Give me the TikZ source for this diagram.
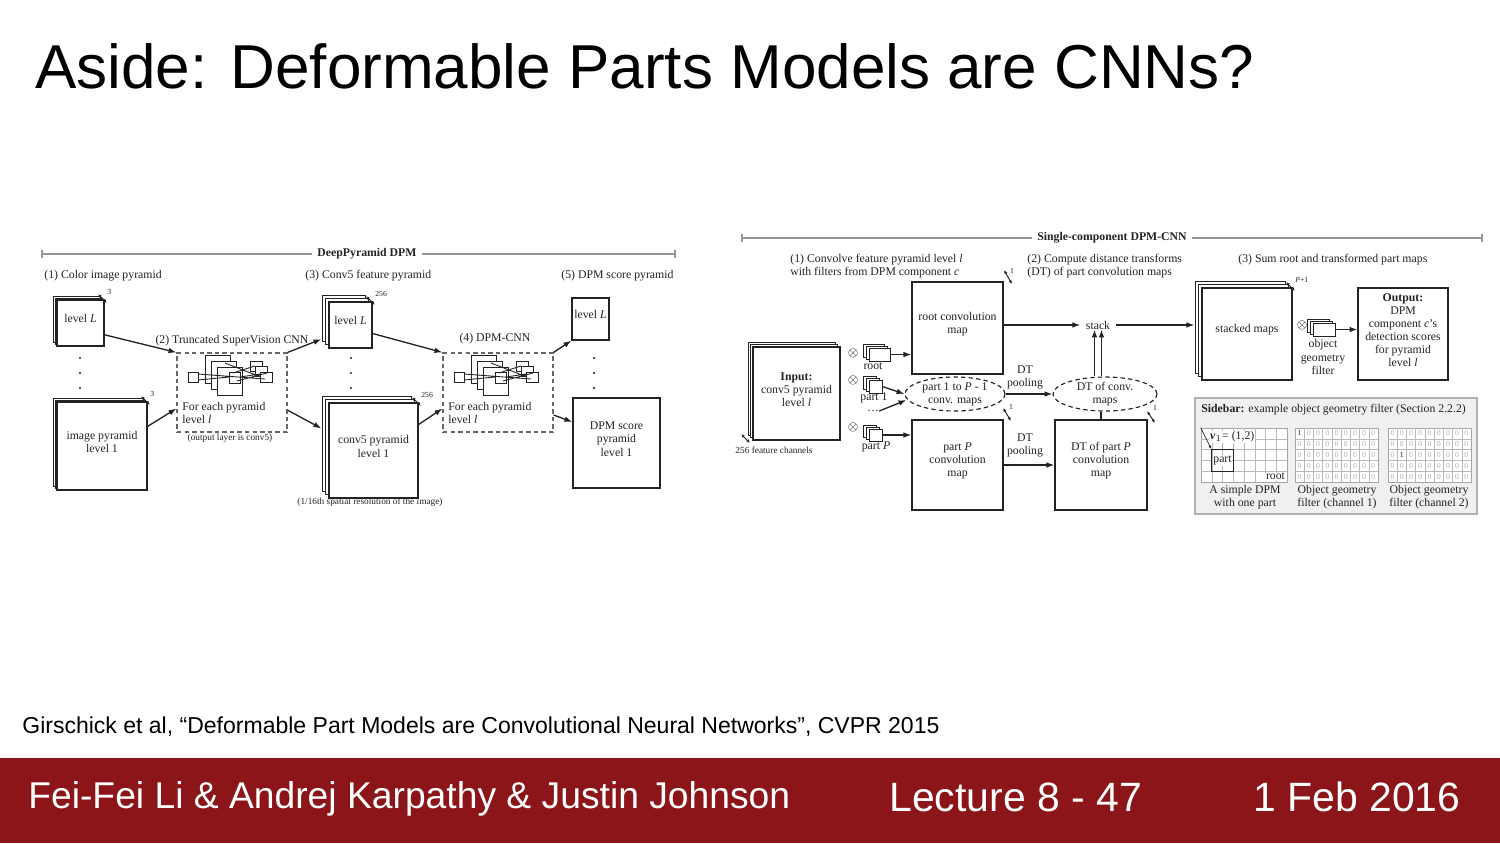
\documentclass[tikz,border=0pt]{standalone}
\usepackage{fontspec}
\setmainfont{Liberation Serif}
\newfontfamily\slidefont{Liberation Sans}
\usetikzlibrary{arrows.meta, positioning, shapes.geometric, calc, fit}

\definecolor{footred}{RGB}{139,21,24}
\definecolor{ink}{RGB}{35,35,35}
\definecolor{rulegray}{RGB}{150,150,150}

\newcommand{\figsize}{\fontsize{6.7}{7.5}\selectfont}
\newcommand{\smallsize}{\fontsize{5.3}{6}\selectfont}
\newcommand{\tinysize}{\fontsize{4.4}{5}\selectfont}

% sheets stacked behind a map, offset up-left
\newcommand{\layers}[5]{%
  \foreach \k in {2,1}
    \draw[sheet] (#1-\k*#5,#2-\k*#5) rectangle (#3-\k*#5,#4-\k*#5);}
% depth marker at a top-right corner
\newcommand{\depthmark}[4]{%
  \draw[depth] (#2-6,#3-6) -- (#2+3,#3+3);
  \node[tinylbl, anchor=south west] (#1) at (#2+3,#3-5) {#4};}
% small filter stack, front sheet is a node
\newcommand{\filt}[5]{%
  \draw[sheet] (#2,#3) rectangle ++(#4,#5);
  \draw[sheet] (#2+3,#3+2) rectangle ++(#4,#5);
  \node[sheetnode, fit={(#2+6,#3+4) (#2+6+#4,#3+4+#5)}] (#1) {};}
% little network drawing inside the dashed boxes
\newcommand{\cnnicon}[2]{%
  \begin{scope}[shift={(#1,#2)}]
    \draw[icon, fill=white] (28,2) rectangle (53,30);
    \draw[icon, fill=white] (34,8) rectangle (59,36);
    \draw[icon, fill=white] (40,14) rectangle (65,42);
    \draw[icon, fill=white] (73,8) rectangle (85,18);
    \draw[icon, fill=white] (78,13) rectangle (90,23);
    \draw[icon, fill=white] (83,19) rectangle (95,29);
    \draw[icon, fill=white] (11,19) rectangle (21,29);
    \draw[icon, fill=white] (52,19) rectangle (63,30);
    \draw[icon] (21,21) -- (88,26) (21,27) -- (52,24) (48,10) -- (84,24)
      (63,24) -- (83,21) (56,20) -- (78,13) (60,28) -- (90,20);
  \end{scope}}

\begin{document}
\begin{tikzpicture}[x=0.02cm, y=-0.02cm,
    >={Latex[length=4.5pt,width=3.2pt]},
    lbl/.style={font=\figsize, text=ink, inner sep=0pt, align=center},
    small/.style={font=\smallsize, text=ink, inner sep=0pt},
    tinylbl/.style={font=\tinysize, text=ink, inner sep=0pt},
    head/.style={font=\figsize\bfseries, text=ink, fill=white, inner xsep=3pt, inner ysep=0pt},
    rule/.style={draw=rulegray, line width=0.6pt},
    sheet/.style={draw=ink, fill=white, line width=0.55pt},
    sheetnode/.style={draw=ink, fill=white, line width=0.55pt, inner sep=0pt},
    mapbox/.style={draw=ink, fill=white, line width=0.7pt, inner sep=0pt, font=\figsize, text=ink, align=center},
    dashbox/.style={draw=gray!80!black, line width=0.65pt, dash pattern=on 2.5pt off 1.8pt, inner sep=0pt},
    dashell/.style={ellipse, draw=ink, line width=0.65pt, dash pattern=on 2.5pt off 1.8pt, inner sep=0pt, font=\figsize, text=ink, align=center},
    arr/.style={->, draw=ink, line width=0.75pt},
    depth/.style={{Latex[length=2.2pt,width=1.8pt]}-{Latex[length=2.2pt,width=1.8pt]}, draw=ink, line width=0.55pt},
    icon/.style={draw=ink, line width=0.5pt},
    dotmark/.style={circle, fill=ink, inner sep=0pt, minimum size=1.4pt},
    cellgrid/.style={draw=gray!55, line width=0.3pt},
    digit/.style={font=\tinysize, inner sep=0pt},
  ]
  \fill[white] (0,0) rectangle (1500,843);
  \useasboundingbox (0,0) rectangle (1500,843);

  % slide title and footer
  \node[font=\slidefont\fontsize{35.3}{40}\selectfont, anchor=base west, inner sep=0pt] (title) at (35,88)
    {Aside: Deformable Parts Models are CNNs?};
  \node[font=\slidefont\fontsize{13.1}{15}\selectfont, anchor=base west, inner sep=0pt] (cite) at (22,733)
    {Girschick et al, “Deformable Part Models are Convolutional Neural Networks”, CVPR 2015};
  \fill[footred] (0,758) rectangle (1500,843);
  \node[font=\slidefont\fontsize{21.2}{24}\selectfont, text=white, anchor=base west, inner sep=0pt] (authors) at (28,808)
    {Fei-Fei Li \& Andrej Karpathy \& Justin Johnson};
  \node[font=\slidefont\fontsize{23.3}{26}\selectfont, text=white, anchor=base west, inner sep=0pt] (lecture) at (889,811)
    {Lecture 8 - 47};
  \node[font=\slidefont\fontsize{23.3}{26}\selectfont, text=white, anchor=base west, inner sep=0pt] (date) at (1253,811)
    {1 Feb 2016};

  % ---------------- DeepPyramid DPM ----------------
  \draw[rule] (42,254) -- (675,254);
  \draw[rule] (42,250) -- (42,258) (675,250) -- (675,258);
  \node[head] (ltitle) at (367,254) {DeepPyramid DPM};
  \node[lbl, anchor=west] (lab1) at (44,276) {(1) Color image pyramid};
  \node[lbl, anchor=west] (lab3) at (305,276) {(3) Conv5 feature pyramid};
  \node[lbl, anchor=west] (lab5) at (561,276) {(5) DPM score pyramid};

  % image pyramid
  \layers{57}{300}{104}{346}{2}
  \node[mapbox, fit={(57,300) (104,346)}] (imgL) {level \textit{L}};
  \depthmark{imgLd}{104}{300}{3}
  \foreach \y [count=\i] in {358,373,388} \node[dotmark] (imgdot\i) at (80,\y) {};
  \layers{57}{402}{147}{490}{2}
  \node[mapbox, fit={(57,402) (147,490)}] (imgone) {image pyramid\\level 1};
  \depthmark{imgoned}{147}{402}{3}

  % truncated CNN
  \node[dashbox, fit={(177,353) (287,432)}] (cnn) {};
  \cnnicon{177}{353}
  \node[lbl] (cnnlab) at (232,341) {(2) Truncated SuperVision CNN};
  \node[lbl, align=left, anchor=north west] (cnntxt) at (182,402) {For each pyramid\\level \textit{l}};
  \node[small] (cnnout) at (230,438) {(output layer is conv5)};
  \draw[arr] ($(imgL.north east)!0.75!(imgL.south east)$) -- (cnn.north west);
  \draw[arr] ($(imgone.north east)!0.28!(imgone.south east)$) -- ($(cnn.north west)!0.7!(cnn.south west)$);

  % conv5 pyramid
  \layers{329}{302}{372}{348}{3.5}
  \node[mapbox, fit={(329,302) (372,348)}] (convL) {level \textit{L}};
  \depthmark{convLd}{372}{302}{256}
  \foreach \y [count=\i] in {358,373,388} \node[dotmark] (convdot\i) at (351,\y) {};
  \layers{329}{403}{418}{498}{3.5}
  \node[mapbox, fit={(329,403) (418,498)}] (convone) {conv5 pyramid\\level 1};
  \depthmark{convoned}{418}{403}{256}
  \node[small] (convres) at (370,502) {(1/16th spatial resolution of the image)};
  \draw[arr] (cnn.north east) -- ($(convL.north west)!0.8!(convL.south west)+(-7,0)$);
  \draw[arr] ($(cnn.north east)!0.72!(cnn.south east)$) -- ($(convone.north west)!0.27!(convone.south west)+(-7,0)$);

  % DPM-CNN
  \node[dashbox, fit={(443,353) (553,432)}] (dpm) {};
  \cnnicon{443}{353}
  \node[lbl] (dpmlab) at (495,339) {(4) DPM-CNN};
  \node[lbl, align=left, anchor=north west] (dpmtxt) at (448,402) {For each pyramid\\level \textit{l}};
  \draw[arr] ($(convL.north east)!0.68!(convL.south east)$) -- (dpm.north west);
  \draw[arr] ($(convone.north east)!0.23!(convone.south east)$) -- ($(dpm.north west)!0.7!(dpm.south west)$);

  % DPM score pyramid
  \node[mapbox, fit={(572,298) (609,340)}] (scoreL) {level \textit{L}};
  \foreach \y [count=\i] in {358,373,388} \node[dotmark] (scoredot\i) at (594,\y) {};
  \node[mapbox, fit={(573,398) (660,488)}] (scoreone) {DPM score\\pyramid\\level 1};
  \draw[arr] (dpm.north east) -- (scoreL.south west);
  \draw[arr] ($(dpm.north east)!0.78!(dpm.south east)$) -- ($(scoreone.north west)!0.27!(scoreone.south west)$);

  % ---------------- Single-component DPM-CNN ----------------
  \draw[rule] (742,238) -- (1482,238);
  \draw[rule] (742,234) -- (742,242) (1482,234) -- (1482,242);
  \node[head] (rtitle) at (1112,238) {Single-component DPM-CNN};
  \node[lbl, align=left, anchor=west] (step1) at (790,266)
    {(1) Convolve feature pyramid level \textit{l}\\with filters from DPM component \textit{c}};
  \node[lbl, align=left, anchor=west] (step2) at (1027,266)
    {(2) Compute distance transforms\\(DT) of part convolution maps};
  \node[lbl, anchor=west] (step3) at (1238,260) {(3) Sum root and transformed part maps};

  % input
  \layers{753}{347}{840}{440}{2.5}
  \node[mapbox, fit={(753,347) (840,440)}] (input) {\textbf{Input:}\\conv5 pyramid\\level \textit{l}};
  \draw[depth] (741,434) -- (750,443);
  \node[small] (channels) at (774,450) {256 feature channels};

  % filters
  \node[lbl] (otroot) at (853,353) {$\otimes$};
  \node[lbl] (otpart) at (853,380) {$\otimes$};
  \node[lbl] (otlast) at (853,427) {$\otimes$};
  \filt{froot}{863}{344}{21}{13}
  \filt{fpart}{863}{376}{13}{13}
  \filt{flast}{863}{425}{13}{12}
  \node[lbl] (rootlab) at (873,366) {root};
  \node[lbl] (partlab) at (874,398) {part 1};
  \node[lbl] (morelab) at (873,411) {\dots};
  \node[lbl] (lastlab) at (876,447) {part \textit{P}};

  % convolution maps
  \node[mapbox, fit={(912,282) (1003,374)}] (rootconv) {root convolution\\map};
  \draw[depth] (1004,270) -- (1012,284);
  \node[tinylbl] (rootd) at (1012,271) {1};
  \node[dashell, minimum width=2cm, minimum height=0.68cm] (partell) at (955,394) {part 1 to \textit{P} - 1\\conv. maps};
  \draw[depth] (1003,408) -- (1011,421);
  \node[tinylbl] (partd) at (1011,407) {1};
  \node[mapbox, fit={(912,420) (1003,510)}] (lastconv) {part \textit{P}\\convolution\\map};
  \draw[arr] (froot.east) -- (froot.east -| rootconv.west);
  \draw[arr] (fpart.east) -- (partell.west);
  \draw[arr] (morelab.east) -- ($(partell.west)+(2,6)$);
  \draw[arr] (flast.east) -- (flast.east -| lastconv.west);

  % distance transforms
  \node[lbl] (dtp1) at (1025,377) {DT\\pooling};
  \node[lbl] (dtp2) at (1025,445) {DT\\pooling};
  \node[dashell, minimum width=2.08cm, minimum height=0.68cm] (dtell) at (1105,394) {DT of conv.\\maps};
  \draw[depth] (1147,411) -- (1155,423);
  \node[tinylbl] (dtd) at (1155,408) {1};
  \node[mapbox, fit={(1055,420) (1147,510)}] (dtlast) {DT of part \textit{P}\\convolution\\map};
  \draw[arr] (partell.east) -- (dtell.west);
  \draw[arr] (lastconv.east) -- (dtlast.west);
  \draw[ink, line width=0.7pt] (dtlast.north) -- (dtlast.north |- dtell.south);

  % stack
  \node[lbl, inner xsep=3pt] (stack) at (1098,325) {stack};
  \coordinate (stl) at ($(stack.south)+(-3.5,0)$);
  \coordinate (str) at ($(stack.south)+(3.5,0)$);
  \draw[arr] (stl |- dtell.north) -- (stl);
  \draw[arr] (str |- dtell.north) -- (str);
  \draw[arr] (rootconv.east |- stack.west) -- (stack.west);

  % stacked maps and output
  \layers{1202}{288}{1292}{380}{3.5}
  \node[mapbox, fit={(1202,288) (1292,380)}] (stacked) {stacked maps};
  \depthmark{stackd}{1292}{288}{\textit{P}+1}
  \coordinate (stkedge) at ($(stacked.west)+(-7,0)$);
  \draw[arr] (stack.east) -- (stack.east -| stkedge);
  \node[lbl] (otgeo) at (1302,325) {$\otimes$};
  \filt{fgeo}{1307}{319}{22}{13}
  \node[lbl] (geolab) at (1323,357) {object\\geometry\\filter};
  \node[mapbox, fit={(1358,288) (1448,380)}] (output)
    {\textbf{Output:}\\DPM\\component \textit{c}'s\\detection scores\\for pyramid\\level \textit{l}};
  \draw[arr] (fgeo.east) -- (fgeo.east -| output.west);

  % sidebar
  \node[draw=gray!60, fill=gray!12, line width=0.6pt, inner sep=0pt, fit={(1195,398) (1477,514)}] (sidebar) {};
  \node[lbl, anchor=west] (sidetitle) at (1201,410) {\textbf{Sidebar:} example object geometry filter (Section 2.2.2)};
  \node[fill=white, draw=gray!70, line width=0.3pt, inner sep=0pt, fit={(1201,428) (1287,482)}] (dpmgrid) {};
  \foreach \i in {1,...,7} \draw[cellgrid] (1201+\i*10.75,428) -- (1201+\i*10.75,482);
  \foreach \j in {1,...,4} \draw[cellgrid] (1201,428+\j*10.8) -- (1287,428+\j*10.8);
  \node[draw=ink, line width=0.5pt, inner sep=0pt, font=\figsize, fit={(1211.75,449.6) (1233.25,471.2)}] (gpart) {};
  \node[lbl, fill=white, inner sep=0.4pt] (gpartlab) at (gpart.center) {part};
  \node[lbl, fill=white, inner sep=0.4pt, anchor=south east] (grootlab) at (1286,481) {root};
  \node[lbl, fill=white, inner sep=0.4pt, anchor=west] (vlab) at (1209,437) {\textbf{\textit{v}}$_1$= (1,2)};
  \draw[ink, line width=0.4pt, -{Latex[length=2pt,width=1.6pt]}] (dpmgrid.north west) -- (gpart.north west);
  % geometry filter channels
  \foreach \gx/\ox/\oy [count=\g] in {1295/0/0, 1388/1/2} {
    \node[fill=white, draw=gray!70, line width=0.3pt, inner sep=0pt, fit={(\gx,428) (\gx+83,482)}] (geo\g) {};
    \foreach \i in {1,...,8} \draw[cellgrid] (\gx+\i*9.22,428) -- (\gx+\i*9.22,482);
    \foreach \j in {1,...,4} \draw[cellgrid] (\gx,428+\j*10.8) -- (\gx+83,428+\j*10.8);
    \foreach \c in {0,...,8} \foreach \r in {0,...,4} {
      \pgfmathtruncatemacro\v{(\c==\ox)&&(\r==\oy)}
      \ifnum\v=1 \def\dcol{ink}\else\def\dcol{gray!60}\fi
      \node[digit, text=\dcol] (g\g-\c-\r) at (\gx+4.61+\c*9.22,433.4+\r*10.8) {\v};
    }
  }
  \node[lbl] (cap1) at (1245,497) {A simple DPM\\with one part};
  \node[lbl] (cap2) at (1337,497) {Object geometry\\filter (channel 1)};
  \node[lbl] (cap3) at (1429,497) {Object geometry\\filter (channel 2)};
\end{tikzpicture}
\end{document}
